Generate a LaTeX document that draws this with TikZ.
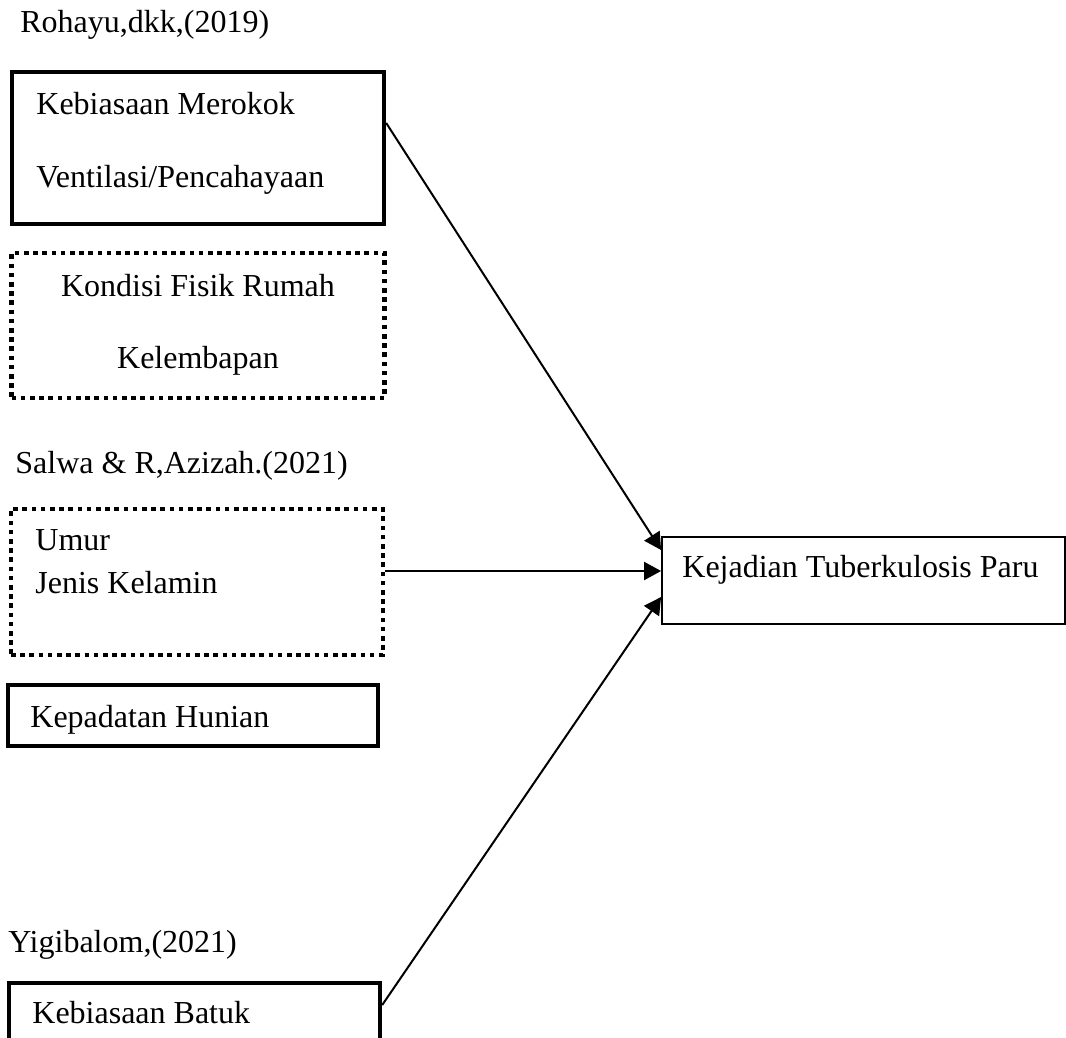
\documentclass[tikz,border=0pt]{standalone}
\usepackage{fontspec}
\setmainfont{Liberation Serif}
\usetikzlibrary{arrows.meta}

\begin{document}
\begin{tikzpicture}[x=0.5pt, y=-0.5pt,
        every node/.style={font=\fontsize{16pt}{19pt}\selectfont},
        txt/.style={anchor=base west, inner sep=0pt},
        ctxt/.style={anchor=base, inner sep=0pt},
        solidbox/.style={draw, line width=2.2pt, inner sep=0pt},
        dotbox/.style={draw, line width=2.3pt, dash pattern=on 2.3pt off 2.3pt, inner sep=0pt},
        outbox/.style={draw, line width=0.9pt, inner sep=0pt},
        arr/.style={line width=1pt, -{Triangle[length=8.5pt,width=9pt]}}]
            \useasboundingbox (0,0) rectangle (1066,1038);
            \clip (0,0) rectangle (1066,1038);

            \node[txt] (src1) at (20,33) {Rohayu,dkk,(2019)};
            \node[solidbox, minimum width=186pt, minimum height=76pt] (box1) at (198,148) {};
            \node[txt] (merokok) at (36,115) {Kebiasaan Merokok};
            \node[txt] (ventilasi) at (36,187) {Ventilasi/Pencahayaan};

            \node[dotbox, minimum width=186.5pt, minimum height=72.5pt] (box2) at (198,325.5) {};
            \node[ctxt] (fisik) at (198,296) {Kondisi Fisik Rumah};
            \node[ctxt] (lembap) at (198,368) {Kelembapan};

            \node[txt] (src2) at (15,473) {Salwa \& R,Azizah.(2021)};
            \node[dotbox, minimum width=186pt, minimum height=73pt] (box3) at (197,582) {};
            \node[txt] (umur) at (35,550) {Umur};
            \node[txt] (kelamin) at (35,593) {Jenis Kelamin};

            \node[solidbox, minimum width=185pt, minimum height=30.5pt] (box4) at (193,715.5) {};
            \node[txt] (hunian) at (30,727) {Kepadatan Hunian};

            \node[txt] (src3) at (8,952) {Yigibalom,(2021)};
            \node[solidbox, minimum width=185.5pt, minimum height=60pt] (box5) at (194.5,1043) {};
            \node[txt] (batuk) at (32,1023) {Kebiasaan Batuk};

            \node[outbox, minimum width=201.5pt, minimum height=43.5pt] (tb) at (863.5,580.5) {};
            \node[txt] (tbtext) at (682,577) {Kejadian Tuberkulosis Paru};

            \draw[arr] ([yshift=12.5pt]box1.east) -- ([yshift=15.25pt]tb.west);
            \draw[arr] ([yshift=4.75pt]tb.west -| box3.east) -- ([yshift=4.75pt]tb.west);
            \draw[arr] ([yshift=19pt]box5.east) -- ([yshift=-8.25pt]tb.west);
        \end{tikzpicture}
\end{document}
